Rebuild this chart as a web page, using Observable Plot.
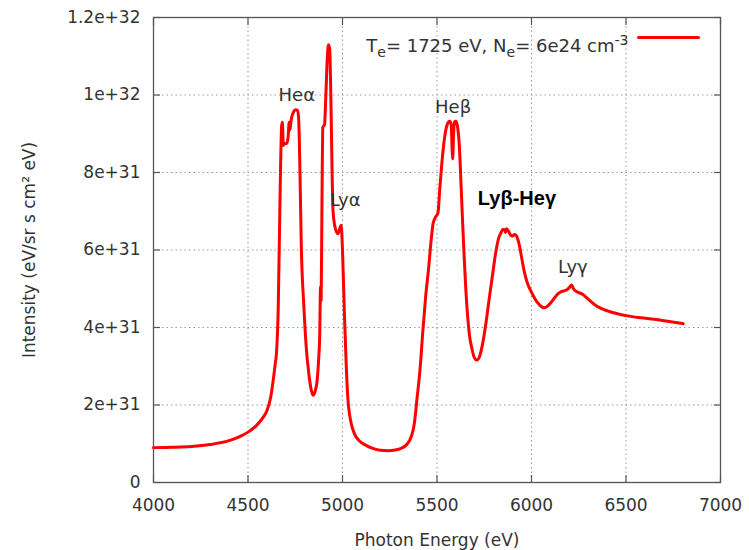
<!DOCTYPE html>
<html><head><meta charset="utf-8">
<script src="https://cdn.jsdelivr.net/npm/d3@7"></script>
<script src="https://cdn.jsdelivr.net/npm/@observablehq/plot@0.6"></script>
<style>body{margin:0;background:#fff}</style>
</head><body><div id="chart"></div>
<script>
// Photon energy (eV)
const energy = [4000,4100,4200,4300,4400,4450,4500,4550,4580,4600,4620,4635,4645,4650,4660,4670,4678,4682,4687,4695,4705,4712,4718,4722,4728,4740,4752,4762,4768,4775,4782,4795,4808,4822,4835,4844,4855,4866,4874,4879,4884,4887,4891,4896,4905,4912,4920,4926,4932,4935,4940,4945,4950,4960,4970,4976,4985,4993,5000,5010,5020,5028,5045,5063,5090,5120,5160,5200,5240,5280,5310,5340,5365,5380,5395,5410,5425,5440,5455,5470,5480,5495,5505,5515,5525,5540,5555,5567,5575,5580,5583,5587,5592,5600,5608,5618,5628,5636,5645,5653,5662,5671,5685,5697,5711,5725,5741,5760,5777,5795,5812,5826,5838,5848,5856,5862,5868,5876,5882,5890,5900,5910,5918,5926,5935,5948,5961,5978,5997,6015,6032,6050,6067,6085,6102,6120,6138,6160,6182,6200,6212,6222,6235,6250,6270,6300,6331,6365,6402,6450,6508,6580,6649,6720,6803];
// Intensity (eV/sr s cm^2 eV)
const intensity = [0.90e31,0.91e31,0.93e31,0.98e31,1.08e31,1.17e31,1.30e31,1.50e31,1.68e31,1.85e31,2.2e31,2.7e31,3.1e31,3.3e31,4.5e31,7.5e31,9.2e31,9.3e31,8.7e31,8.75e31,8.75e31,8.9e31,9.3e31,9.1e31,9.35e31,9.55e31,9.62e31,9.6e31,9.4e31,8.0e31,6.1e31,4.6e31,3.5e31,2.8e31,2.38e31,2.25e31,2.35e31,2.64e31,3.2e31,3.7e31,5.05e31,4.7e31,7.0e31,9.17e31,9.24e31,10.0e31,11.0e31,11.3e31,11.2e31,10.8e31,9.5e31,8.0e31,7.0e31,6.6e31,6.45e31,6.42e31,6.55e31,6.64e31,6.0e31,4.36e31,3.0e31,2.2e31,1.55e31,1.26e31,1.07e31,0.97e31,0.88e31,0.83e31,0.82e31,0.84e31,0.88e31,0.98e31,1.2e31,1.52e31,2.2e31,2.9e31,3.9e31,4.8e31,5.5e31,6.3e31,6.7e31,6.87e31,6.95e31,7.6e31,8.2e31,8.9e31,9.25e31,9.32e31,9.25e31,8.6e31,8.35e31,8.9e31,9.3e31,9.32e31,9.2e31,8.7e31,7.6e31,6.66e31,5.7e31,4.94e31,4.3e31,3.83e31,3.45e31,3.23e31,3.16e31,3.25e31,3.57e31,4.15e31,4.77e31,5.4e31,5.97e31,6.3e31,6.44e31,6.53e31,6.53e31,6.45e31,6.55e31,6.5e31,6.45e31,6.38e31,6.36e31,6.4e31,6.38e31,6.3e31,6.14e31,5.8e31,5.46e31,5.15e31,4.94e31,4.77e31,4.64e31,4.55e31,4.51e31,4.55e31,4.64e31,4.75e31,4.86e31,4.93e31,4.96e31,5.03e31,5.1e31,5.0e31,4.94e31,4.9e31,4.86e31,4.73e31,4.6e31,4.5e31,4.43e31,4.36e31,4.3e31,4.25e31,4.21e31,4.16e31,4.1e31];

const xTicks = [4000,4500,5000,5500,6000,6500,7000];
const yTicks = [0,2e31,4e31,6e31,8e31,1e32,1.2e32];
const yTickLabels = ["0","2e+31","4e+31","6e+31","8e+31","1e+32","1.2e+32"];

const lineNames = ["Heα","Lyα","Heβ","Lyγ"];
const lineX = [4758,5014,5585,6219];
const lineY = [9.99e31,7.28e31,9.69e31,5.55e31];
const boldNames = ["Lyβ-Heγ"];
const boldX = [5923];
const boldY = [7.33e31];

// legend text pieces: [text, kind] where kind is "n" normal, "sub" subscript, "sup" superscript
const legendParts = [["T","n"],["e","sub"],["= 1725 eV, N","n"],["e","sub"],["= 6e24 cm","n"],["-3","sup"]];
const legendLabel = legendParts.map(p => p[0]).join("");
const xLabel = "Photon Energy (eV)";
const yLabel = "Intensity (eV/sr s cm² eV)";

const spectrum = energy.map((e, i) => ({e, v: intensity[i]}));
const names = lineNames.map((t, i) => ({t, x: lineX[i], y: lineY[i]}));
const bolds = boldNames.map((t, i) => ({t, x: boldX[i], y: boldY[i]}));
const yFmt = d => yTickLabels[yTicks.indexOf(d)];

const frameColor = "#555";
const gridStyle = {stroke: "#999", strokeOpacity: 1, strokeDasharray: "1.5,3"};
const tick = 7;
const tickStyle = {text: null, label: null, tickSize: tick, stroke: frameColor, strokeWidth: 1.2};

const chart = Plot.plot({
  width: 749,
  height: 550,
  marginLeft: 153,
  marginRight: 29,
  marginTop: 17,
  marginBottom: 68,
  style: {fontFamily: "DejaVu Sans", fontSize: "17px", color: "#333", background: "#fff"},
  x: {domain: [4000, 7000]},
  y: {domain: [0, 1.2e32]},
  marks: [
    Plot.gridX({ticks: xTicks, ...gridStyle}),
    Plot.gridY({ticks: yTicks, ...gridStyle}),
    Plot.axisX({anchor: "bottom", ticks: xTicks, tickSize: 0, tickPadding: 16, tickFormat: d3.format("d"),
      label: xLabel, labelAnchor: "center", labelOffset: 63, labelArrow: "none"}),
    Plot.axisY({anchor: "left", ticks: yTicks, tickSize: 0, tickPadding: 13, tickFormat: yFmt,
      label: yLabel, labelAnchor: "center", labelOffset: 131, labelArrow: "none"}),
    // inward (mirrored) ticks on all four sides
    Plot.axisX({anchor: "bottom", ticks: xTicks, dy: -tick, ...tickStyle}),
    Plot.axisX({anchor: "top", ticks: xTicks, dy: tick, ...tickStyle}),
    Plot.axisY({anchor: "left", ticks: yTicks, dx: tick, ...tickStyle}),
    Plot.axisY({anchor: "right", ticks: yTicks, dx: -tick, ...tickStyle}),
    Plot.frame({stroke: frameColor, strokeWidth: 1.3}),
    Plot.line(spectrum, {x: "e", y: "v", stroke: "#ff0000", strokeWidth: 3, curve: "monotone-x"}),
    Plot.text(names, {x: "x", y: "y", text: "t", fontSize: 18, fill: "#333"}),
    Plot.text(bolds, {x: "x", y: "y", text: "t", fontSize: 20, fontWeight: "bold", fontFamily: "Liberation Sans", fill: "#000"}),
    Plot.text([legendLabel], {text: d => d, frameAnchor: "top-right", textAnchor: "end", dx: -92, dy: 22, fontSize: 18, fill: "#333"}),
    Plot.vector([legendLabel], {frameAnchor: "top-right", dx: -22, dy: 20, length: 60, rotate: -90, anchor: "start",
      shape: {draw(ctx, l) { ctx.moveTo(0, 0); ctx.lineTo(0, -l); }}, stroke: "#ff0000", strokeWidth: 3})
  ]
});

// rich formatting (sub/superscripts) for the legend text
d3.select(chart).selectAll("text").filter(function() { return this.textContent === legendLabel; })
  .each(function() {
    const t = d3.select(this);
    t.text(null);
    let shift = 0;
    for (const [s, kind] of legendParts) {
      const target = kind === "sub" ? 5 : kind === "sup" ? -7 : 0;
      t.append("tspan")
        .attr("dy", target - shift)
        .attr("font-size", kind === "n" ? null : 14)
        .text(s);
      shift = target;
    }
  });

document.getElementById("chart").append(chart);
</script>
</body></html>
